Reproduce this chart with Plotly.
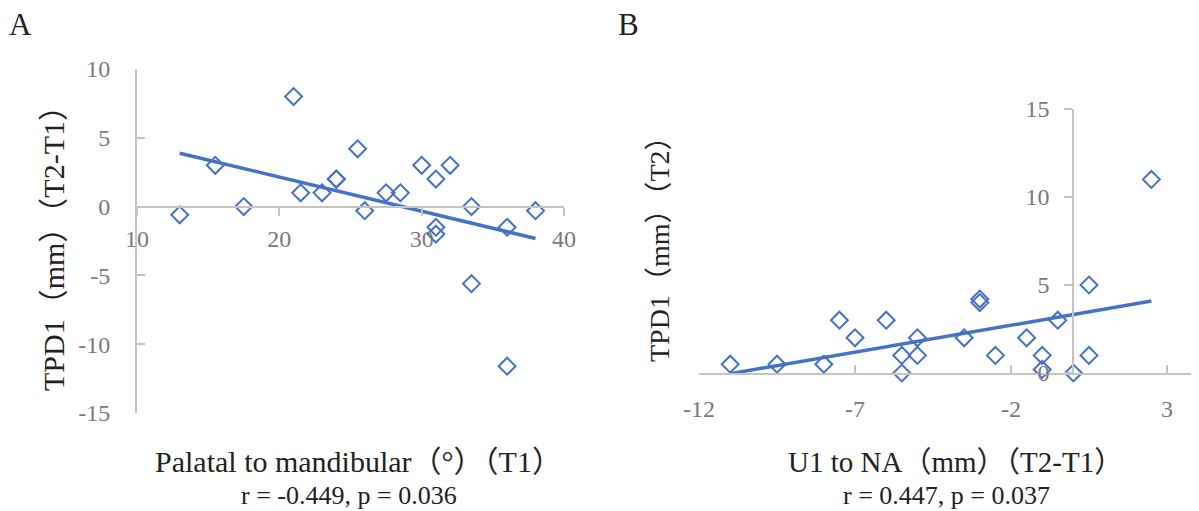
import re
import numpy as np
import plotly.graph_objects as go

# Target canvas is 1199x511; the page body adds an 8px margin, so the figure is
# drawn 8px smaller and all layout pixel positions are shifted by that offset.
W, H = 1199, 511
OFF = 8
FW, FH = W - OFF, H - OFF

# Panel A data: Palatal to mandibular (T1) vs TPD1 (T2-T1)
a_x = [13, 15.5, 17.5, 21, 21.5, 23, 24, 24, 25.5, 26, 27.5, 28.5, 30, 31, 31, 31, 32, 33.5, 33.5, 36, 36, 38]
a_y = [-0.6, 3, 0, 8, 1, 1, 2, 2, 4.2, -0.3, 1, 1, 3, 2, -1.5, -2, 3, 0, -5.6, -1.5, -11.6, -0.3]
a_xticks = [10, 20, 30, 40]
a_yticks = [10, 5, 0, -5, -10, -15]

# Panel B data: U1 to NA (T2-T1) vs TPD1 (T2)
b_x = [-11, -9.5, -8, -7.5, -7, -6, -5.5, -5.5, -5, -5, -3.5, -3, -3, -2.5, -1.5, -1, -1, -0.5, 0, 0.5, 0.5, 2.5]
b_y = [0.5, 0.5, 0.5, 3, 2, 3, 1, 0, 2, 1, 2, 4.2, 4, 1, 2, 1, 0.2, 3, 0, 5, 1, 11]
b_xticks = [-12, -7, -2, 3]
b_yticks = [0, 5, 10, 15]

BLUE = "#4472C4"
AXIS = "#c4c4c4"
TICKC = "#7a7a7a"
SERIF = "Liberation Serif"
CJK = "Noto Sans CJK JP"


def fx(p):
    return (p - OFF) / FW


def fy(p):
    return 1 - (p - OFF) / FH


def trend(xs, ys):
    k, b = np.polyfit(xs, ys, 1)
    xx = np.array([min(xs), max(xs)])
    return xx, k * xx + b


def mixed(text):
    parts = re.findall(r"[（）]+|[^（）]+", text)
    out = []
    for p in parts:
        fam = CJK if p[0] in "（）" else SERIF
        out.append(f'<span style="font-family:{fam}">{p}</span>')
    return "".join(out)


fig = go.Figure()
mk = dict(symbol="diamond-open", size=13, color=BLUE, line=dict(width=2, color=BLUE))

fig.add_trace(go.Scatter(x=a_x, y=a_y, mode="markers", marker=mk, xaxis="x", yaxis="y",
                         cliponaxis=False, showlegend=False))
tx, ty = trend(a_x, a_y)
fig.add_trace(go.Scatter(x=tx, y=ty, mode="lines", line=dict(color=BLUE, width=3.5),
                         xaxis="x", yaxis="y", showlegend=False))

fig.add_trace(go.Scatter(x=b_x, y=b_y, mode="markers", marker=mk, xaxis="x2", yaxis="y2",
                         cliponaxis=False, showlegend=False))
tx, ty = trend(b_x, b_y)
fig.add_trace(go.Scatter(x=tx, y=ty, mode="lines", line=dict(color=BLUE, width=3.5),
                         xaxis="x2", yaxis="y2", showlegend=False))

ax_dom = [fx(137), fx(564)]
ay_dom = [fy(413), fy(69)]
a_xr = [10, 40]
a_yr = [-15, 10]
bx_dom = [fx(699), 1.0]
by_dom = [fy(373), fy(109)]
b_xr = [-12, -12 + (1199 - 699) / 31.2]
b_yr = [0, 15]

a_xpos = ay_dom[0] + (0 - a_yr[0]) / (a_yr[1] - a_yr[0]) * (ay_dom[1] - ay_dom[0])
b_ypos = bx_dom[0] + (0 - b_xr[0]) / (b_xr[1] - b_xr[0]) * (bx_dom[1] - bx_dom[0])

tickfont = dict(family=SERIF, size=24, color=TICKC)
common = dict(showgrid=False, zeroline=False, showline=True, linecolor=AXIS, linewidth=2,
              tickcolor=AXIS, tickwidth=2, ticklen=8, tickfont=tickfont, tickmode="array")

fig.update_layout(
    width=FW, height=FH,
    margin=dict(l=0, r=0, t=0, b=0, pad=0, autoexpand=False),
    paper_bgcolor="white", plot_bgcolor="white",
    xaxis=dict(domain=ax_dom, range=a_xr, anchor="free", position=a_xpos,
               tickvals=a_xticks, ticktext=[str(v) for v in a_xticks],
               ticks="outside", ticklabelstandoff=3, **common),
    yaxis=dict(domain=ay_dom, range=a_yr, anchor="x",
               tickvals=a_yticks, ticktext=[str(v) for v in a_yticks],
               ticks="inside", ticklabelstandoff=20, **common),
    xaxis2=dict(domain=bx_dom, range=b_xr, anchor="y2",
                tickvals=b_xticks, ticktext=[str(v) for v in b_xticks],
                ticks="inside", ticklabelstandoff=13, **common),
    yaxis2=dict(domain=by_dom, range=b_yr, anchor="free", position=b_ypos,
                tickvals=b_yticks, ticktext=[str(v) for v in b_yticks],
                ticks="outside", ticklabelstandoff=10, **common),
)


def ann(text, xp, yp, size, angle=0, color="#222222"):
    fig.add_annotation(text=mixed(text), x=fx(xp), y=fy(yp), xref="paper", yref="paper",
                       showarrow=False, textangle=angle, xanchor="center", yanchor="middle",
                       font=dict(family=SERIF, size=size, color=color))


ann("A", 20, 25, 31)
ann("B", 628, 25, 31)
ann("Palatal to mandibular（°）（T1）", 358, 459, 30)
ann("r = -0.449, p = 0.036", 349, 495, 26)
ann("U1 to NA（mm）（T2-T1）", 955, 459, 29)
ann("r = 0.447, p = 0.037", 946, 495, 26)
ann("TPD1（mm）（T2-T1）", 51, 241, 30, angle=-90)
ann("TPD1（mm）（T2）", 657, 242, 28, angle=-90)

fig.write_html("out.html")
